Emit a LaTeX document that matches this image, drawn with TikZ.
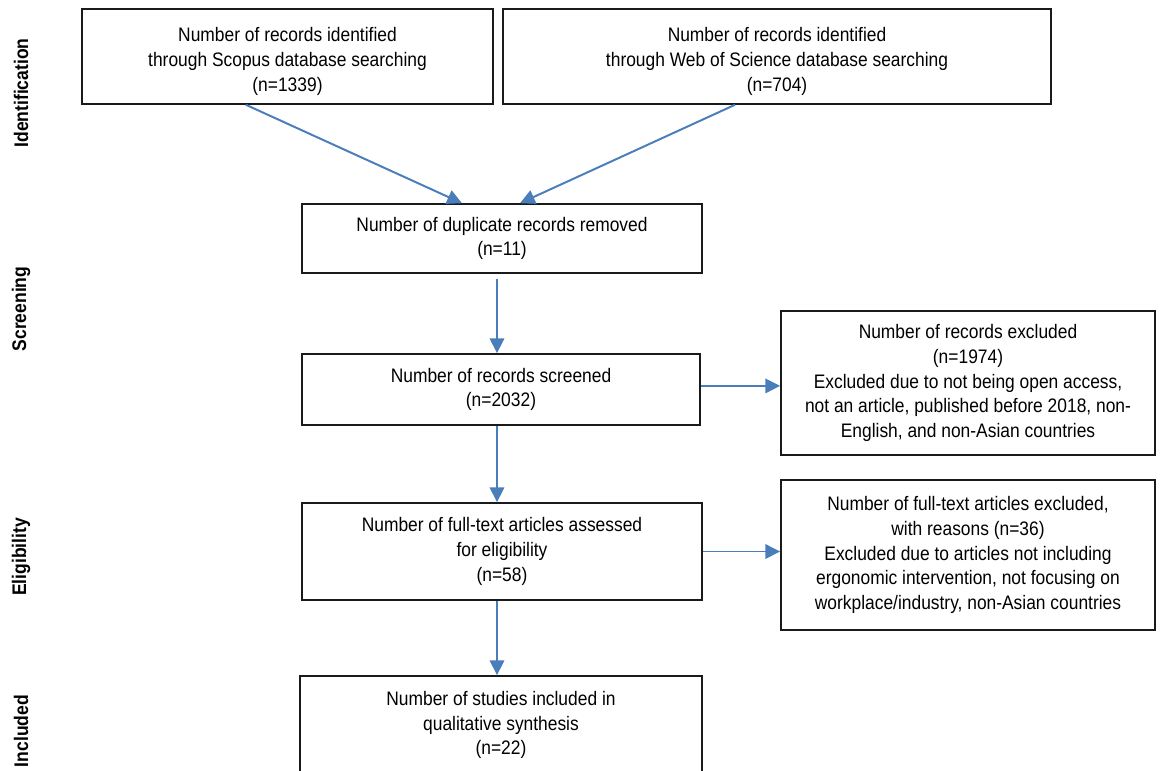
\documentclass[tikz,border=0pt]{standalone}
\usepackage{fontspec}
\setmainfont{Liberation Sans}[FakeStretch=0.89]
\usepackage{xcolor}
\usetikzlibrary{arrows.meta}
\definecolor{FlowBlue}{HTML}{4A7EBB}
\definecolor{BoxLine}{HTML}{1A1A1A}
\tikzset{
  prbox/.style={draw=BoxLine,line width=1.1pt,align=center,inner sep=0pt,
    font=\fontsize{13.9}{17.5}\selectfont},
  flow/.style={draw=FlowBlue,line width=1.4pt,-{Triangle[length=0.37cm,width=0.36cm]}},
  phase/.style={rotate=90,font=\fontsize{14}{16}\selectfont\bfseries}
}
\begin{document}
\begin{tikzpicture}[x=0.025cm,y=-0.025cm]
\useasboundingbox (0,0) rectangle (1161,770);
% phase labels
\node[phase] (idl) at (21,93) {Identification};
\node[phase] (scl) at (21,309) {Screening};
\node[phase] (ell) at (21,557) {Eligibility};
\node[phase] (inl) at (21,731) {Included};
% boxes
\node[prbox,minimum width=10.275cm,minimum height=2.375cm] (scopus) at (287.5,56.5)
  {\rule{0pt}{17pt}Number of records identified\\through Scopus database searching\\(n=1339)};
\node[prbox,minimum width=13.7cm,minimum height=2.375cm] (wos) at (777,56.5)
  {\rule{0pt}{17pt}Number of records identified\\through Web of Science database searching\\(n=704)};
\node[prbox,minimum width=10cm,minimum height=1.725cm] (dup) at (502,238.5)
  {Number of duplicate records removed\\(n=11)};
\node[prbox,minimum width=9.95cm,minimum height=1.775cm] (screen) at (501,389.5)
  {Number of records screened\\(n=2032)};
\node[prbox,minimum width=9.35cm,minimum height=3.6cm] (excl) at (968,383)
  {Number of records excluded\\(n=1974)\\Excluded due to not being open access,\\not an article, published before 2018, non-\\English, and non-Asian countries};
\node[prbox,minimum width=10cm,minimum height=2.425cm] (full) at (502,551.5)
  {Number of full-text articles assessed\\for eligibility\\(n=58)};
\node[prbox,minimum width=9.35cm,minimum height=3.75cm] (fexcl) at (968,555)
  {Number of full-text articles excluded,\\with reasons (n=36)\\Excluded due to articles not including\\ergonomic intervention, not focusing on\\workplace/industry, non-Asian countries};
\node[prbox,minimum width=10.05cm,minimum height=2.45cm] (incl) at (501,725)
  {Number of studies included in\\qualitative synthesis\\(n=22)};
% connectors
\draw[flow] ([xshift=-1.04cm]scopus.south) -- ([xshift=-1cm]dup.north);
\draw[flow] ([xshift=-1.05cm]wos.south) -- ([xshift=0.45cm]dup.north);
\draw[flow,shorten <=0.125cm] ([xshift=-0.125cm]dup.south) -- ([xshift=-0.1cm]screen.north);
\draw[flow] ([xshift=-0.1cm]screen.south) -- ([xshift=-0.125cm]full.north);
\draw[flow] ([xshift=-0.125cm]full.south) -- ([xshift=-0.1cm]incl.north);
\draw[flow] ([yshift=0.09cm]screen.east) -- ([yshift=0.09cm]screen.east -| excl.west);
\draw[flow] (full.east) -- (full.east -| fexcl.west);
\end{tikzpicture}
\end{document}
